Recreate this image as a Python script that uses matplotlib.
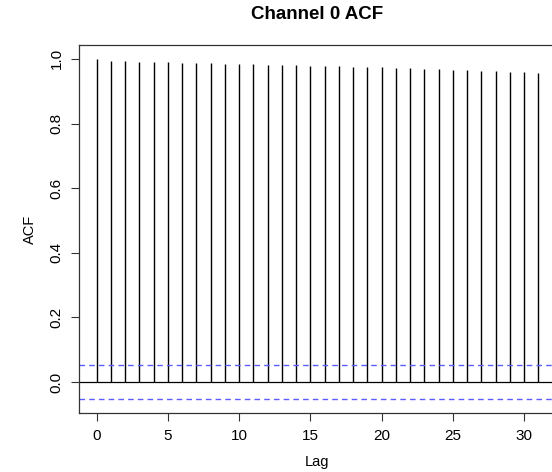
import matplotlib
matplotlib.use('Agg')
import matplotlib.pyplot as plt
import numpy as np

# --- data ---
LAGS = np.arange(0, 32)
ACF = [
    1.000, 0.993, 0.992, 0.991, 0.990, 0.989, 0.988, 0.987,
    0.986, 0.985, 0.984, 0.983, 0.982, 0.981, 0.980, 0.979,
    0.978, 0.977, 0.976, 0.975, 0.974, 0.973, 0.971, 0.970,
    0.968, 0.967, 0.965, 0.963, 0.961, 0.960, 0.958, 0.956,
]
CI = 0.054
X_TICKS = [0, 5, 10, 15, 20, 25, 30]
Y_TICKS = [0.0, 0.2, 0.4, 0.6, 0.8, 1.0]

plt.rcParams['font.family'] = ['Liberation Sans', 'DejaVu Sans']

fig = plt.figure(figsize=(5.52, 4.72), dpi=100)
ax = fig.add_axes([79 / 552, 59 / 472, 477 / 552, 368 / 472])

ax.vlines(LAGS, 0, ACF, color='black', linewidth=1.0)
ax.axhline(0, color='black', linewidth=0.9)
ax.axhline(CI, color='#5c5cff', linewidth=1.0, linestyle=(0, (4, 3)))
ax.axhline(-CI, color='#5c5cff', linewidth=1.0, linestyle=(0, (4, 3)))

pad = 0.04 * (LAGS[-1] - LAGS[0])
ax.set_xlim(LAGS[0] - pad, LAGS[-1] + pad)
ax.set_ylim(-0.096, 1.043)

ax.set_xticks(X_TICKS)
ax.set_xticklabels([str(t) for t in X_TICKS])
ax.set_yticks(Y_TICKS)
ax.set_yticklabels([f"{t:.1f}" for t in Y_TICKS], rotation=90, va='center')
ax.tick_params(axis='x', direction='out', length=6, width=0.8,
               labelsize=11, color='#333333', pad=5.5)
ax.tick_params(axis='y', direction='out', length=6, width=0.8,
               labelsize=11, color='#333333', pad=5)

for spine in ax.spines.values():
    spine.set_linewidth(0.9)
    spine.set_color('#333333')

ax.set_xlabel("Lag", fontsize=10.5, labelpad=9)
ax.set_ylabel("ACF", fontsize=10.5, labelpad=9)
ax.set_title("Channel 0 ACF", fontsize=13.5, fontweight='bold', pad=19)

fig.savefig('out.png', dpi=100)
